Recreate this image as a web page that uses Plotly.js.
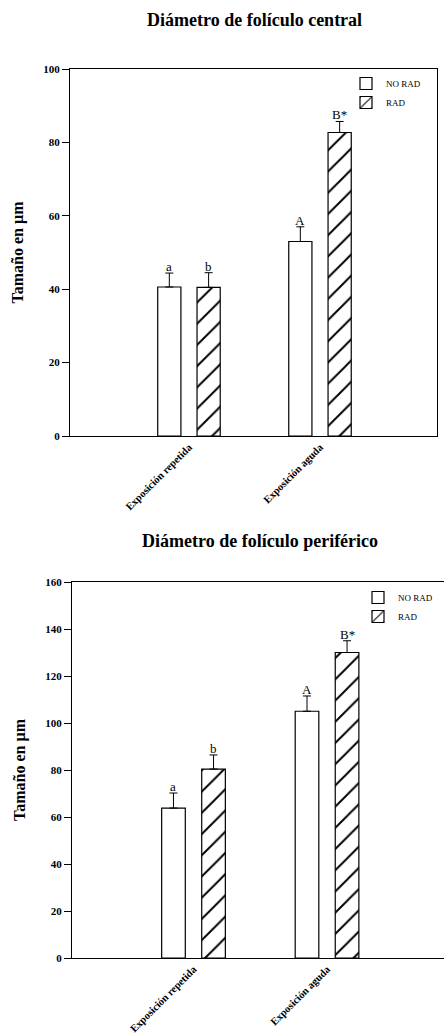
<!DOCTYPE html>
<html>
<head>
<meta charset="utf-8">
<script src="https://cdn.plot.ly/plotly-3.0.1.min.js"></script>
<style>html,body{margin:0;padding:0;background:#fff;}#chart{width:444px;height:1035px;}</style>
</head>
<body>
<div id="chart"></div>
<script>
// ---- data ----
const categories = ["Exposición repetida", "Exposición aguda"];
const seriesNames = ["NO RAD", "RAD"];

const centralNoRad = [40.6, 53.0];
const centralNoRadErr = [3.8, 4.0];
const centralRad = [40.5, 82.7];
const centralRadErr = [4.0, 3.0];
const centralNoRadLetters = ["a", "A"];
const centralRadLetters = ["b", "B*"];

const perifNoRad = [63.8, 105.0];
const perifNoRadErr = [6.4, 6.5];
const perifRad = [80.4, 130.0];
const perifRadErr = [6.0, 5.0];
const perifNoRadLetters = ["a", "A"];
const perifRadLetters = ["b", "B*"];

const centralTicks = [0, 20, 40, 60, 80, 100];
const perifTicks = [0, 20, 40, 60, 80, 100, 120, 140, 160];

// ---- styling ----
const SERIF = '"Liberation Serif", "Times New Roman", serif';
const BARGAP = 0.4, GROUPGAP = 0.41;
const OFF = (1 - BARGAP) / 4;

function barTrace(name, x, y, err, xa, ya, hatched, legendId) {
  return {
    type: "bar", name: name, x: x, y: y, xaxis: xa, yaxis: ya,
    legend: legendId,
    marker: {
      color: "#ffffff",
      line: {color: "#000000", width: 1.2},
      pattern: hatched ? {shape: "/", fgcolor: "#000000", bgcolor: "#ffffff", size: 15, solidity: 0.13} : {shape: ""}
    },
    error_y: {type: "data", array: err, arrayminus: err.map(() => 0), symmetric: false,
              color: "#000000", thickness: 1, width: 4}
  };
}

const data = [
  barTrace(seriesNames[0], categories, centralNoRad, centralNoRadErr, "x", "y", false, "legend"),
  barTrace(seriesNames[1], categories, centralRad, centralRadErr, "x", "y", true, "legend"),
  barTrace(seriesNames[0], categories, perifNoRad, perifNoRadErr, "x2", "y2", false, "legend2"),
  barTrace(seriesNames[1], categories, perifRad, perifRadErr, "x2", "y2", true, "legend2")
];

const annotations = [];
function letters(vals, errs, labs, off, xr, yr) {
  vals.forEach((v, i) => {
    annotations.push({
      x: i + off, y: v + errs[i], xref: xr, yref: yr, text: labs[i],
      showarrow: false, yanchor: "bottom", yshift: -3,
      font: {family: SERIF, size: 13, color: "#000"}
    });
  });
}
letters(centralNoRad, centralNoRadErr, centralNoRadLetters, -OFF, "x", "y");
letters(centralRad, centralRadErr, centralRadLetters, OFF, "x", "y");
letters(perifNoRad, perifNoRadErr, perifNoRadLetters, -OFF, "x2", "y2");
letters(perifRad, perifRadErr, perifRadLetters, OFF, "x2", "y2");

annotations.push({
  text: "Diámetro de folículo central", xref: "paper", yref: "paper",
  x: 254 / 444, y: 1 - 20 / 1035, showarrow: false, xanchor: "center", yanchor: "middle",
  font: {family: SERIF, size: 18, weight: "bold", color: "#000"}
});
annotations.push({
  text: "Diámetro de folículo periférico", xref: "paper", yref: "paper",
  x: 260 / 444, y: 1 - 541 / 1035, showarrow: false, xanchor: "center", yanchor: "middle",
  font: {family: SERIF, size: 18, weight: "bold", color: "#000"}
});

const tickFontY = {family: SERIF, size: 11, weight: "bold", color: "#000"};
const tickFontX = {family: SERIF, size: 10.5, weight: "bold", color: "#000"};
const titleFont = {family: SERIF, size: 16, weight: "bold", color: "#000"};

const layout = {
  width: 444, height: 1035,
  margin: {l: 0, r: 0, t: 0, b: 0},
  paper_bgcolor: "#fff", plot_bgcolor: "#fff",
  barmode: "group", bargap: BARGAP, bargroupgap: GROUPGAP,
  font: {family: SERIF, color: "#000"},
  xaxis: {
    domain: [70 / 444, 437 / 444], anchor: "y", type: "category",
    range: [-0.908, 1.893], showline: true, mirror: true, linecolor: "#000", linewidth: 1,
    ticks: "", tickangle: -45, tickfont: tickFontX, showgrid: false, zeroline: false
  },
  yaxis: {
    domain: [1 - 436 / 1035, 1 - 69 / 1035], anchor: "x",
    range: [0, 100], tickvals: centralTicks, ticktext: centralTicks.map(String),
    showline: true, mirror: true, linecolor: "#000", linewidth: 1,
    ticks: "outside", ticklen: 7, tickcolor: "#000", tickfont: tickFontY,
    showgrid: false, zeroline: false,
    title: {text: "Tamaño en µm", font: titleFont, standoff: 15}
  },
  xaxis2: {
    domain: [72 / 444, 1], anchor: "y2", type: "category",
    range: [-0.91, 1.876], showline: true, mirror: true, linecolor: "#000", linewidth: 1,
    ticks: "", tickangle: -45, tickfont: tickFontX, showgrid: false, zeroline: false
  },
  yaxis2: {
    domain: [1 - 958 / 1035, 1 - 582 / 1035], anchor: "x2",
    range: [0, 160], tickvals: perifTicks, ticktext: perifTicks.map(String),
    showline: true, mirror: false, linecolor: "#000", linewidth: 1,
    ticks: "outside", ticklen: 7, tickcolor: "#000", tickfont: tickFontY,
    showgrid: false, zeroline: false,
    title: {text: "Tamaño en µm", font: titleFont, standoff: 15}
  },
  legend: {
    x: 346 / 444, y: 1 - 69 / 1035, xanchor: "left", yanchor: "top",
    bgcolor: "rgba(0,0,0,0)", font: {family: SERIF, size: 9, color: "#000"},
    tracegroupgap: 0, itemwidth: 30
  },
  legend2: {
    x: 358 / 444, y: 1 - 583 / 1035, xanchor: "left", yanchor: "top",
    bgcolor: "rgba(0,0,0,0)", font: {family: SERIF, size: 9, color: "#000"},
    tracegroupgap: 0, itemwidth: 30
  },
  showlegend: true,
  annotations: annotations
};

Plotly.newPlot("chart", data, layout, {staticPlot: true, displayModeBar: false});
</script>
</body>
</html>
